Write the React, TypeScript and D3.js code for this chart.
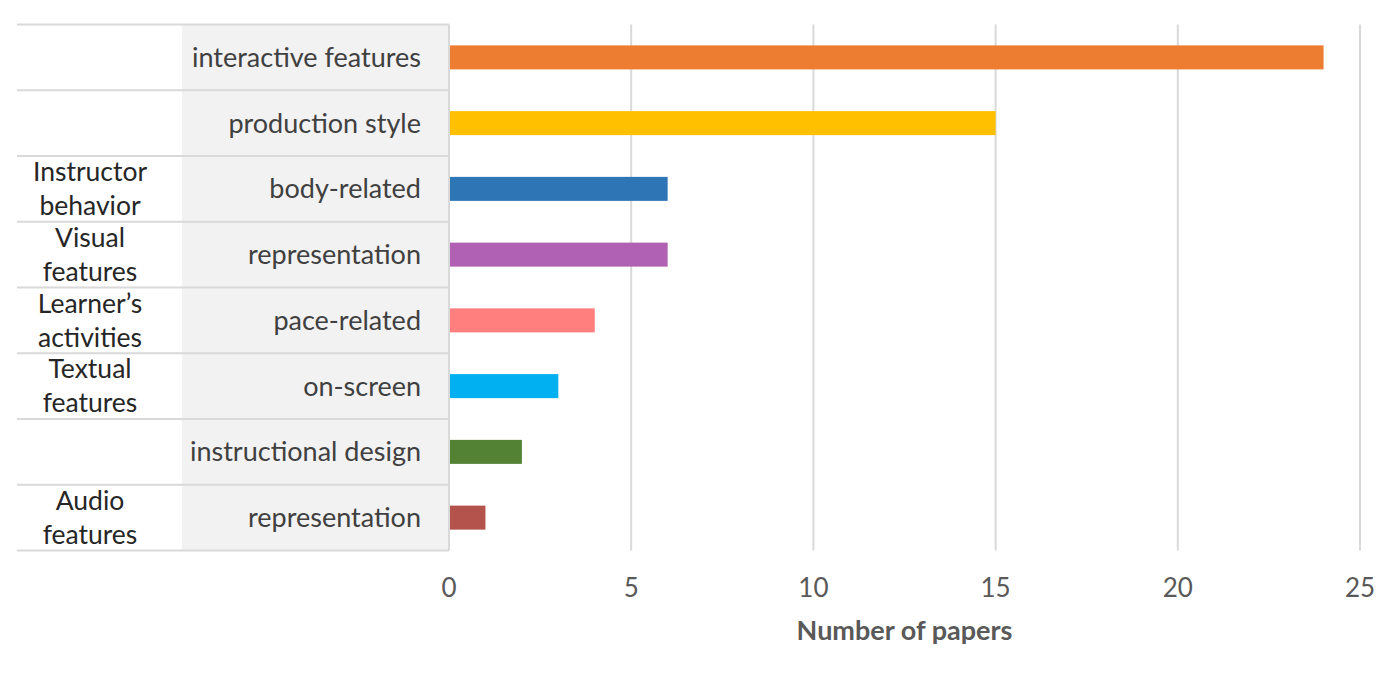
import React from 'react';
import * as d3 from 'd3';

// Reference data, top row first.
const categories = [
  'interactive features',
  'production style',
  'body-related',
  'representation',
  'pace-related',
  'on-screen',
  'instructional design',
  'representation',
];
const groups = [
  [],
  [],
  ['Instructor', 'behavior'],
  ['Visual', 'features'],
  ['Learner’s', 'activities'],
  ['Textual', 'features'],
  [],
  ['Audio', 'features'],
];
const values = [24, 15, 6, 6, 4, 3, 2, 1];
const colors = ['#ED7D31', '#FFC000', '#2E75B6', '#B061B3', '#FF7F7F', '#00B0F0', '#548235', '#B3534B'];
const xTicks = [0, 5, 10, 15, 20, 25];

const W = 1400;
const H = 675;
const FONT = 'Lato, "Open Sans", sans-serif';

export default function App() {
  const x = d3.scaleLinear().domain([0, 25]).range([449, 1360]);
  const y = d3.scaleBand<number>().domain(d3.range(categories.length)).range([24.5, 550.5]).padding(0);
  const bw = y.bandwidth();
  const barH = bw * 0.365;
  const top = y.range()[0];
  const bottom = y.range()[1];

  return (
    <svg width={W} height={H} style={{ position: 'absolute', left: 0, top: 0, background: '#fff' }}>
      {/* gray label panel */}
      <rect x={182} y={top} width={x(0) - 182} height={bottom - top} fill="#f2f2f2" />

      {/* vertical gridlines */}
      {xTicks.map((t) => (
        <line key={t} x1={x(t)} x2={x(t)} y1={top} y2={bottom} stroke="#d9d9d9" strokeWidth={2} />
      ))}

      {/* row separators */}
      {d3.range(categories.length + 1).map((i) => {
        const yy = i < categories.length ? y(i)! : bottom;
        return <line key={i} x1={17} x2={x(0)} y1={yy} y2={yy} stroke="#d9d9d9" strokeWidth={2} />;
      })}

      {/* bars */}
      {values.map((v, i) => (
        <rect
          key={i}
          x={x(0) + 1}
          y={y(i)! + bw / 2 - barH / 2}
          width={x(v) - x(0) - 1}
          height={barH}
          fill={colors[i]}
        />
      ))}

      {/* category labels */}
      {categories.map((c, i) => (
        <text
          key={i}
          x={421}
          y={y(i)! + bw / 2}
          dy="0.35em"
          textAnchor="end"
          fontFamily={FONT}
          fontSize={27}
          fill="#404040"
        >
          {c}
        </text>
      ))}

      {/* group labels */}
      {groups.map((g, i) =>
        g.map((line, j) => (
          <text
            key={`${i}-${j}`}
            x={90}
            y={y(i)! + bw / 2 + (j - (g.length - 1) / 2) * 34}
            dy="0.35em"
            textAnchor="middle"
            fontFamily={FONT}
            fontSize={26.5}
            fill="#262626"
          >
            {line}
          </text>
        ))
      )}

      {/* x tick labels */}
      {xTicks.map((t) => (
        <text
          key={t}
          x={x(t)}
          y={588}
          dy="0.35em"
          textAnchor="middle"
          fontFamily={FONT}
          fontSize={26}
          fill="#595959"
        >
          {t}
        </text>
      ))}

      <text
        x={(x(0) + x(25)) / 2}
        y={631}
        dy="0.35em"
        textAnchor="middle"
        fontFamily={FONT}
        fontSize={27}
        fontWeight="bold"
        fill="#595959"
      >
        Number of papers
      </text>
    </svg>
  );
}
